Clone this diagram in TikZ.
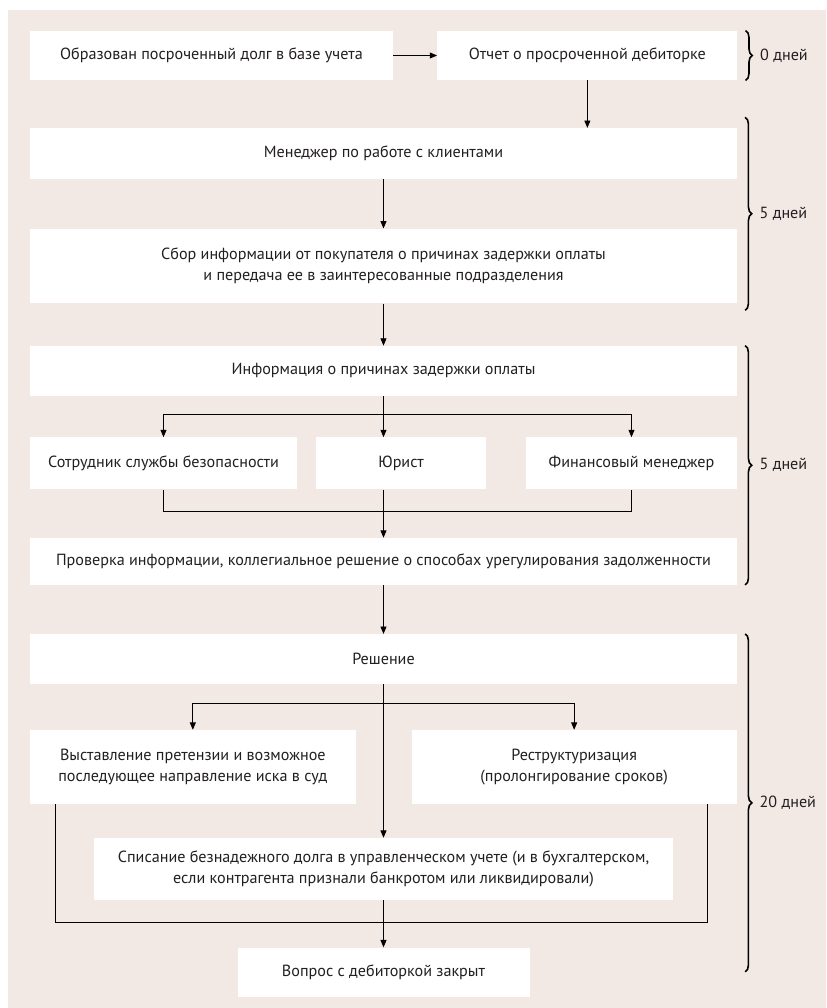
\documentclass[tikz,border=0pt]{standalone}
\usepackage{fontspec}
\setmainfont{PT Sans}
\usepackage{tikz}
\usetikzlibrary{arrows.meta, positioning, decorations.pathreplacing}

\definecolor{fon}{RGB}{242,233,229}
\definecolor{txt}{RGB}{35,31,32}

\begin{document}
\begin{tikzpicture}[
  x=0.75pt, y=0.75pt,
  box/.style={rectangle, fill=white, draw=none, inner sep=2pt,
              minimum height=37pt, align=center, text=txt,
              font=\fontsize{12.1}{15.5}\selectfont},
  wide/.style={box, minimum width=530pt},
  arr/.style={-{Triangle[length=5.5pt,width=4.5pt]}, line width=0.6pt},
  lin/.style={line width=0.6pt},
  brc/.style={decorate, decoration={brace, amplitude=5pt}, line width=1.2pt},
  days/.style={midway, right=7pt, font=\fontsize{12.1}{14}\selectfont, text=txt}
]
\fill[white] (0,0) rectangle (826,-1008);
\fill[fon] (8,-10) rectangle (826,-1008);

\node[box, minimum width=272pt] (obr) at (211.5,-55.5) {Образован посроченный долг в базе учета};
\node[box, minimum width=225pt, right=33pt of obr] (otch) {Отчет о просроченной дебиторке};
\node[wide, minimum height=38pt] (men) at (383.5,-153.5) {Менеджер по работе с клиентами};
\node[wide, minimum height=56pt, below=37pt of men] (sbor)
  {Сбор информации от покупателя о причинах задержки оплаты\\и передача ее в заинтересованные подразделения};
\node[wide, minimum height=37.5pt, below=31.5pt of sbor] (info) {Информация о причинах задержки оплаты};
\node[box, minimum width=200pt, minimum height=39pt, below=30.75pt of info.south west, anchor=north west] (ohr)
  {Сотрудник службы безопасности};
\node[box, minimum width=158pt, minimum height=39pt, below=30.75pt of info.south east, anchor=north east] (fin)
  {Финансовый менеджер};
\node[box, minimum width=127pt, minimum height=39pt, right=14.25pt of ohr] (yur) {Юрист};
\node[wide, minimum height=35pt, below=36pt of ohr.south west, anchor=north west] (prov)
  {Проверка информации, коллегиальное решение о способах урегулирования задолженности};
\node[wide, below=36.75pt of prov] (resh) {Решение};
\node[box, minimum width=244pt, minimum height=55.5pt, below=34.5pt of resh.south west, anchor=north west] (pret)
  {Выставление претензии и возможное\\последующее направление иска в суд};
\node[box, minimum width=244pt, minimum height=55.5pt, below=34.5pt of resh.south east, anchor=north east] (restr)
  {Реструктуризация\\(пролонгирование сроков)};
\node[box, minimum width=434pt, minimum height=46.5pt, below=115.5pt of resh] (spis)
  {Списание безнадежного долга в управленческом учете (и в бухгалтерском,\\если контрагента признали банкротом или ликвидировали)};
\node[box, minimum width=219pt, below=35.25pt of spis] (zakr) {Вопрос с дебиторкой закрыт};

% split and join points
\coordinate[below=13.5pt of info] (split1);
\coordinate[below=16.5pt of ohr] (join1);
\coordinate[below=15pt of resh] (split2);
\coordinate[below=16.5pt of spis] (join2);

\draw[arr] (obr) -- (otch);
\draw[arr] (otch) -- (otch |- men.north);
\draw[arr] (men) -- (sbor);
\draw[arr] (sbor) -- (info);
\draw[arr] (info) -- (info |- yur.north);
\draw[arr] (split1) -| (ohr);
\draw[arr] (split1) -| (fin);
\draw[lin] (ohr) -- (join1) -| (fin);
\draw[arr] (info |- yur.south) -- (prov);
\draw[arr] (prov) -- (resh);
\draw[arr] (split2) -| (pret);
\draw[arr] (split2) -| (restr);
\draw[arr] (resh) -- (spis);
\draw[lin] ([xshift=19pt]pret.south west) |- (join2) -| ([xshift=-22pt]restr.south east);
\draw[arr] (spis) -- (zakr);

% braces
\draw[brc] ([xshift=6pt]otch.north east) -- node[days]{0 дней} ([xshift=6pt]otch.south east);
\draw[brc] ([xshift=6pt,yshift=8pt]men.north east) -- node[days]{5 дней} ([xshift=6pt,yshift=-5pt]sbor.south east);
\draw[brc] ([xshift=6pt]info.north east) -- node[days]{5 дней} ([xshift=6pt]prov.south east);
\draw[brc] ([xshift=6pt]resh.north east) -- node[days]{20 дней} ([xshift=6pt,yshift=19pt]zakr.south -| resh.east);
\end{tikzpicture}
\end{document}
